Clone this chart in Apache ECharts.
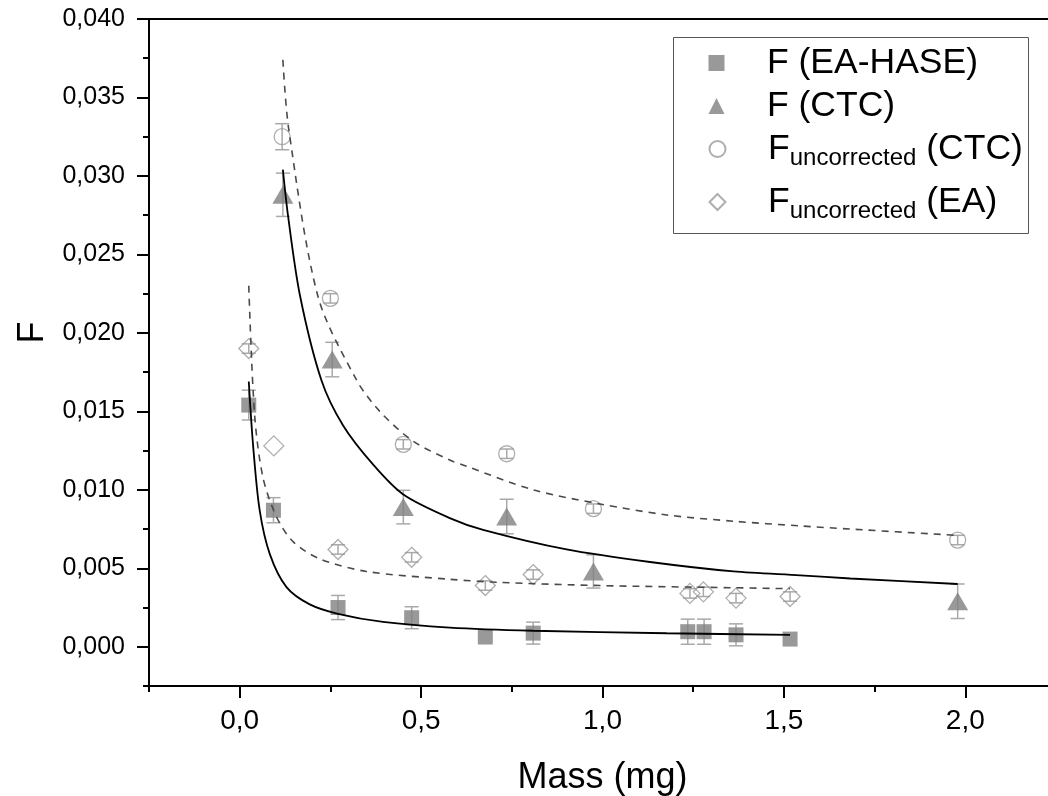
<!DOCTYPE html>
<html><head><meta charset="utf-8">
<script src="https://cdn.jsdelivr.net/npm/echarts@6/dist/echarts.min.js"></script>
<style>html,body{margin:0;padding:0;background:#fff}#c{width:1048px;height:796px}</style>
</head><body><div id="c"></div>
<script>
// ---- data ----
const massEA   = [0.025, 0.093, 0.271, 0.474, 0.677, 0.809, 1.235, 1.280, 1.368, 1.517];
const fEA      = [0.0154, 0.0087, 0.0025, 0.00185, 0.00062, 0.00087, 0.00096, 0.00096, 0.00076, 0.00049];
const errEA    = [0.00095, 0.0008, 0.00077, 0.0007, 0, 0.0007, 0.0008, 0.0008, 0.0007, 0];

const massCTC  = [0.119, 0.255, 0.451, 0.736, 0.975, 1.979];
const fCTC     = [0.0288, 0.0183, 0.0089, 0.0083, 0.0048, 0.0029];
const errCTC   = [0.00138, 0.0011, 0.00107, 0.0011, 0.00106, 0.0011];

const massUCTC = [0.117, 0.250, 0.451, 0.736, 0.975, 1.979];
const fUCTC    = [0.0325, 0.0222, 0.0129, 0.0123, 0.0088, 0.0068];
const errUCTC  = [0.00083, 0.0003, 0.0003, 0.0003, 0.0003, 0.0003];

const massUEA  = [0.025, 0.094, 0.271, 0.474, 0.677, 0.809, 1.241, 1.278, 1.368, 1.517];
const fUEA     = [0.0190, 0.0128, 0.0062, 0.0057, 0.0039, 0.0046, 0.0034, 0.0035, 0.0031, 0.0032];
const errUEA   = [0.0003, 0, 0.0003, 0.0003, 0.0003, 0.0003, 0.0003, 0.0003, 0.0003, 0.0003];

// fitted curves
const fitEAm   = [0.025, 0.037, 0.055, 0.083, 0.129, 0.193, 0.271, 0.395, 0.579, 0.809, 1.177, 1.517];
const fitEAf   = [0.0169, 0.0128, 0.0087, 0.0059, 0.0038, 0.0027, 0.0021, 0.00158, 0.00122, 0.00102, 0.00086, 0.00076];
const fitUEAm  = [0.025, 0.041, 0.064, 0.101, 0.147, 0.221, 0.349, 0.579, 0.717, 0.993, 1.361, 1.517];
const fitUEAf  = [0.0230, 0.0148, 0.0108, 0.0083, 0.0067, 0.0056, 0.0048, 0.0043, 0.0041, 0.0039, 0.00376, 0.0037];
const fitCTCm  = [0.119, 0.133, 0.166, 0.225, 0.285, 0.368, 0.451, 0.579, 0.671, 0.901, 1.131, 1.361, 1.545, 1.683, 1.979];
const fitCTCf  = [0.0304, 0.0275, 0.0224, 0.0170, 0.0141, 0.0116, 0.0097, 0.0082, 0.00745, 0.0062, 0.0054, 0.0048, 0.00455, 0.00435, 0.0040];
const fitUCTCm = [0.119, 0.135, 0.216, 0.322, 0.386, 0.478, 0.579, 0.625, 0.809, 0.993, 1.177, 1.361, 1.545, 1.683, 1.975];
const fitUCTCf = [0.0374, 0.0330, 0.0223, 0.0170, 0.0150, 0.0131, 0.0119, 0.0115, 0.0100, 0.0091, 0.0084, 0.0080, 0.0077, 0.0075, 0.0071];

const xMajor = [0, 0.5, 1.0, 1.5, 2.0];
const yMajor = [0, 0.005, 0.010, 0.015, 0.020, 0.025, 0.030, 0.035, 0.040];

const names = ['F (EA-HASE)', 'F (CTC)', 'Fu (CTC)', 'Fu (EA)'];

// ---- chart ----
const FONT = 'Liberation Sans, Arial, sans-serif';
const zip = (a, b, c) => a.map((v, i) => c ? [v, b[i], c[i]] : [v, b[i]]);

function errSeries(xs, ys, es) {
  return {
    type: 'custom', silent: true, z: 3, xAxisIndex: 0, yAxisIndex: 0,
    renderItem: function (params, api) {
      const x = api.value(0), y = api.value(1), e = api.value(2);
      if (!e) return null;
      const t = api.coord([x, y + e]), b = api.coord([x, y - e]);
      const w = 7, st = { stroke: '#a9a9a9', lineWidth: 1.5 };
      return { type: 'group', children: [
        { type: 'line', shape: { x1: t[0], y1: t[1], x2: b[0], y2: b[1] }, style: st },
        { type: 'line', shape: { x1: t[0] - w, y1: t[1], x2: t[0] + w, y2: t[1] }, style: st },
        { type: 'line', shape: { x1: b[0] - w, y1: b[1], x2: b[0] + w, y2: b[1] }, style: st }
      ]};
    },
    data: zip(xs, ys, es)
  };
}
function fitSeries(xs, ys, dashed) {
  return {
    type: 'line', smooth: 0.3, showSymbol: false, silent: true, z: 6,
    lineStyle: dashed ? { color: '#4a4a4a', width: 1.6, type: [7, 6] } : { color: '#000', width: 1.8 },
    data: zip(xs, ys)
  };
}

const hollow = { color: 'rgba(255,255,255,0)', borderColor: '#9a9a9a', borderWidth: 1.3 };

const legendFormatter = function (n) {
  if (n === 'Fu (CTC)') return '{f|F}{b|uncorrected}{a| (CTC)}';
  if (n === 'Fu (EA)') return '{f|F}{b|uncorrected}{a| (EA)}';
  return '{f|' + n + '}{b| }';
};
const legendRich = {
  f: { fontFamily: FONT, fontSize: 35.5, color: '#000', lineHeight: 42, padding: [0, 0, 0, 37.5] },
  a: { fontFamily: FONT, fontSize: 35.5, color: '#000', lineHeight: 42 },
  b: { fontFamily: FONT, fontSize: 24, color: '#000', lineHeight: 26, verticalAlign: 'bottom', padding: [34, 0, 0, 0] }
};
const legendTops = [26, 69, 112, 165];
const legends = names.map((n, i) => ({
  data: [n], orient: 'vertical', left: 708.5, top: legendTops[i], padding: 0,
  itemWidth: 16, itemHeight: 16, itemGap: 0, z: 10,
  formatter: legendFormatter, selectedMode: false,
  textStyle: { color: '#000', fontFamily: FONT, fontSize: 35.5, rich: legendRich }
}));

const chart = echarts.init(document.getElementById('c'), null, { renderer: 'canvas' });
chart.setOption({
  animation: false,
  backgroundColor: '#fff',
  grid: { left: 149, right: -8, top: 19, bottom: 110, show: true, borderColor: '#000', borderWidth: 2,
          outerBoundsMode: 'none', containLabel: false },
  graphic: [{
    type: 'rect', z: 1, silent: true,
    shape: { x: 673.5, y: 37.5, width: 355, height: 196 },
    style: { fill: '#fff', stroke: '#555', lineWidth: 1 }
  }],
  legend: legends,
  xAxis: [
    {
      type: 'value', min: -0.25, max: 2.25, interval: 0.25, position: 'bottom',
      axisLine: { show: true, onZero: false, lineStyle: { color: '#000', width: 2 } },
      axisTick: { show: true, customValues: xMajor, length: 12, lineStyle: { color: '#000', width: 2 } },
      axisLabel: { customValues: xMajor, fontFamily: FONT, fontSize: 28, color: '#000', margin: 21,
        formatter: v => v.toFixed(1).replace('.', ',') },
      splitLine: { show: false },
      name: 'Mass (mg)', nameLocation: 'middle', nameGap: 74,
      nameTextStyle: { fontFamily: FONT, fontSize: 36, color: '#000' }
    },
    {
      type: 'value', min: -0.25, max: 2.25, interval: 0.25, position: 'bottom',
      axisLine: { show: false, onZero: false },
      axisTick: { show: true, length: 6, lineStyle: { color: '#000', width: 2 } },
      axisLabel: { show: false }, splitLine: { show: false }
    }
  ],
  yAxis: [
    {
      type: 'value', min: -0.0025, max: 0.04, interval: 0.0025, position: 'left',
      axisLine: { show: true, onZero: false, lineStyle: { color: '#000', width: 2 } },
      axisTick: { show: true, customValues: yMajor, length: 12, lineStyle: { color: '#000', width: 2 } },
      axisLabel: { customValues: yMajor, fontFamily: FONT, fontSize: 25, color: '#000', margin: 24,
        formatter: v => v.toFixed(3).replace('.', ',') },
      splitLine: { show: false },
      name: 'F', nameLocation: 'middle', nameGap: 98,
      nameTextStyle: { fontFamily: FONT, fontSize: 36, color: '#000', padding: [0, 0, 0, 40] }
    },
    {
      type: 'value', min: -0.0025, max: 0.04, interval: 0.0025, position: 'left',
      axisLine: { show: false, onZero: false },
      axisTick: { show: true, length: 6, lineStyle: { color: '#000', width: 2 } },
      axisLabel: { show: false }, splitLine: { show: false }
    }
  ],
  series: [
    errSeries(massEA, fEA, errEA),
    errSeries(massCTC, fCTC, errCTC),
    { name: names[0], type: 'scatter', symbol: 'rect', symbolSize: 15, z: 4,
      itemStyle: { color: '#808080' }, data: zip(massEA, fEA) },
    { name: names[1], type: 'scatter', symbol: 'triangle', symbolSize: [21, 18], z: 4,
      itemStyle: { color: '#808080' }, data: zip(massCTC, fCTC) },
    { name: names[2], type: 'scatter', symbol: 'circle', symbolSize: 16, z: 4,
      itemStyle: hollow, data: zip(massUCTC, fUCTC) },
    { name: names[3], type: 'scatter', symbol: 'diamond', symbolSize: 20, z: 4,
      itemStyle: hollow, data: zip(massUEA, fUEA) },
    errSeries(massUCTC, fUCTC, errUCTC),
    errSeries(massUEA, fUEA, errUEA),
    fitSeries(fitEAm, fitEAf, false),
    fitSeries(fitCTCm, fitCTCf, false),
    fitSeries(fitUCTCm, fitUCTCf, true),
    fitSeries(fitUEAm, fitUEAf, true)
  ]
});
</script></body></html>
